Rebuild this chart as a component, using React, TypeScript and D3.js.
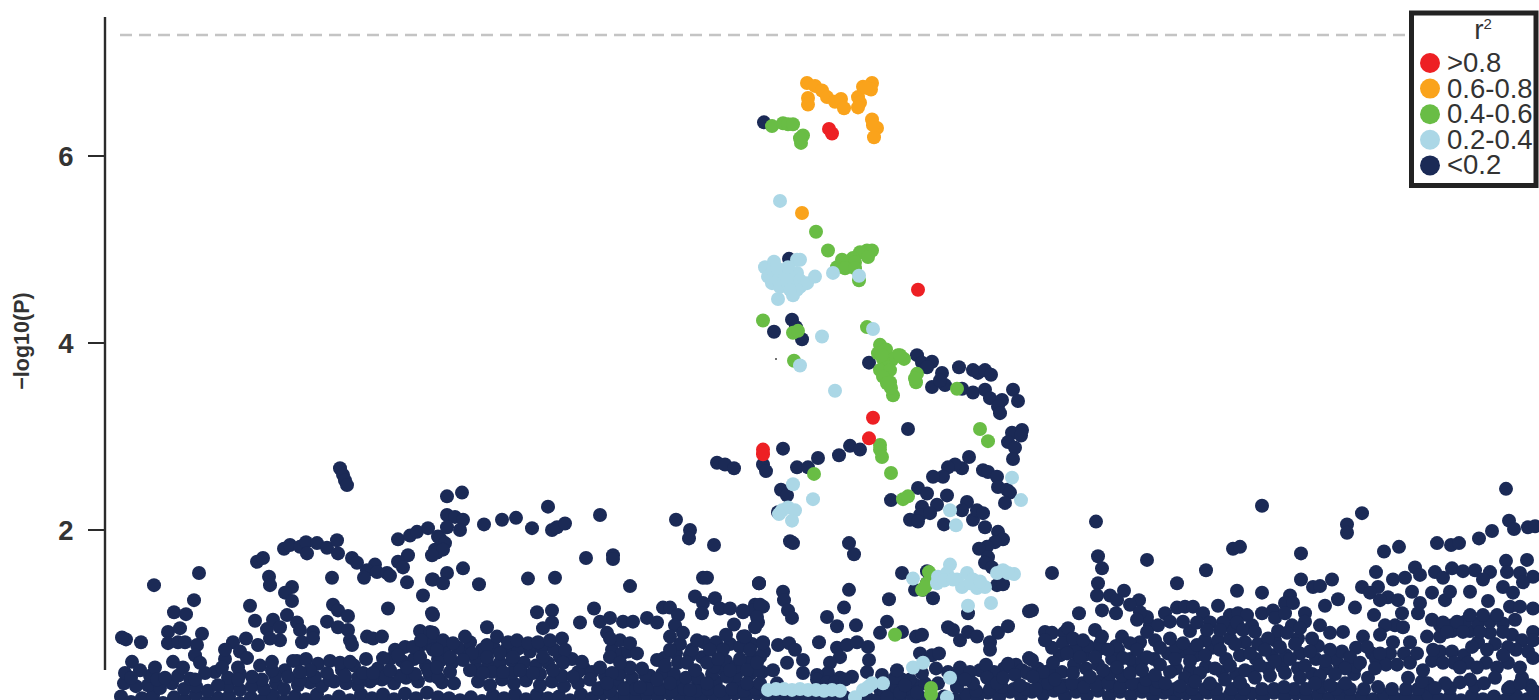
import React from "react";
import * as d3 from "d3";

type P = [number, number];

const yTicks = [2, 4, 6];
const genomeWideLine = 7.3;

const redPoints: P[] = [[829,6.29],[832,6.24],[918,4.57],[873,3.20],[869,2.98],[763,2.86],[763,2.81]];

const orangePoints: P[] = [[807,6.78],[815,6.75],[822,6.70],[827,6.63],[835,6.58],[841,6.61],[844,6.51],[808,6.62],[808,6.55],[858,6.63],[860,6.57],[858,6.52],[863,6.74],[872,6.78],[871,6.71],[866,6.73],[872,6.39],[877,6.30],[874,6.20],[873,6.33],[802,5.39]];

const greenPoints: P[] = [[772,6.32],[783,6.35],[788,6.34],[793,6.34],[803,6.22],[801,6.14],[800,6.19],
[816,5.19],[828,4.99],[867,4.99],[872,4.99],[860,4.97],[868,4.92],[853,4.91],[855,4.86],[842,4.89],[837,4.81],[845,4.80],[855,4.80],[859,4.67],
[763,4.24],[793,4.11],[798,4.13],[867,4.17],[880,3.98],[886,3.93],[878,3.89],[898,3.87],[904,3.83],[892,3.82],[883,3.83],[887,3.74],[882,3.87],[900,3.87],
[880,3.71],[890,3.71],[883,3.64],[890,3.58],[893,3.44],[891,3.52],[887,3.57],[917,3.67],[916,3.58],[915,3.62],[957,3.51],[794,3.81],
[980,3.08],[988,2.95],[880,2.91],[880,2.86],[882,2.78],[891,2.61],[814,2.60],[903,2.33],[908,2.36],
[929,1.55],[927,1.43],[922,1.36],[925,1.39],[895,.88],[931,.31],[931,.24]];

const lightBluePoints: P[] = [[780,5.52],[833,4.75],[859,4.72],[765,4.81],[774,4.87],[797,4.89],[800,4.89],[768,4.71],[773,4.78],[772,4.64],[778,4.67],[783,4.75],[790,4.75],[797,4.75],[793,4.65],[800,4.67],[800,4.60],[807,4.64],[815,4.71],[778,4.47],[793,4.51],[797,4.57],[777,4.80],[788,4.81],[780,4.60],[787,4.65],[790,4.57],
[822,4.07],[873,4.15],[800,3.76],[835,3.49],
[793,2.49],[813,2.33],[1012,2.56],[1021,2.32],[950,2.21],[956,2.05],[782,2.21],[788,2.24],[795,2.21],[792,2.10],[779,2.17],
[950,1.63],[938,1.50],[937,1.43],[947,1.54],[957,1.47],[967,1.54],[973,1.47],[962,1.39],[977,1.38],[985,1.39],[970,1.43],[1003,1.57],[997,1.54],[1014,1.53],[1008,1.54],[913,1.48],[991,1.22],[968,1.19],[944,1.46],[953,1.47],[980,1.45],
[768,.29],[776,.30],[784,.30],[792,.29],[800,.30],[808,.29],[816,.29],[824,.28],[832,.29],[840,.28],[863,.29],[872,.36],[883,.36],[868,.32],[855,.21],[913,.53],[923,.58],[950,.42],[947,.21]];

const navyPeak: P[] = [[764,6.36],[789,4.90],[792,4.25],[796,4.17],[774,4.12],[802,4.04],[869,3.79],[917,3.87],[922,3.79],[932,3.80],[927,3.74],[959,3.74],[973,3.71],[978,3.68],[985,3.71],[991,3.66],[942,3.68],[932,3.53],[945,3.55],[940,3.60],[962,3.51],[973,3.47],[985,3.50],[990,3.41],[1002,3.39],[1013,3.50],[1018,3.38],[998,3.32],[1000,3.25],[908,3.08],
[1022,3.07],[1012,3.04],[1021,3.01],[1008,2.94],[1015,2.88],[1013,2.76],[783,2.87],[763,2.70],[766,2.63],[797,2.67],[808,2.67],[818,2.77],[839,2.80],[850,2.90],[860,2.86],
[969,2.78],[962,2.66],[955,2.70],[948,2.67],[943,2.57],[933,2.57],[983,2.64],[988,2.62],[997,2.57],[998,2.46],[1007,2.43],[1010,2.40],[1005,2.29],[781,2.43],[787,2.37],[891,2.32],[918,2.45],[927,2.39],[947,2.37],[937,2.27],[922,2.25],[920,2.16],[910,2.11],[918,2.09],[930,2.18],[944,2.06],[967,2.30],[962,2.21],[973,2.11],[977,2.21],[983,2.18],[985,2.03],[778,2.19],
[998,1.98],[1003,1.90],[995,1.87],[987,1.82],[979,1.80],[988,1.71],[985,1.65],[992,1.60],[997,1.41],[1003,1.42],[902,1.54],[927,1.56],[927,1.43],[923,1.36],[915,1.36],[933,1.27],[889,1.26],[849,1.36],[844,1.17],[856,.98],[837,.97],[827,1.07],[887,1.02],[880,.90],[902,.91],[916,.86],[922,.88],[948,.96],[953,.93],[960,.82],[968,.91],[977,.86],[998,.90],[1008,.97],[1029,1.13],[990,.80],[990,.72],[968,1.11],
[849,1.86],[854,1.74],[790,1.88],[793,1.86],[759,1.43],[783,1.34],[784,1.25],[788,1.14],[792,1.06],[753,1.14],[760,1.20],[757,1.07],[755,.96],[743,1.14],[819,.80]];

const navyLeft: P[] = [[340,2.66],[343,2.59],[345,2.53],[347,2.48],[154,1.41],[199,1.54],[194,1.25],[174,1.12],[186,1.10],[126,.83],[122,.85],[141,.80],[168,.91],[180,.95],[202,.89],[168,.79],[178,.80],[185,.80],[197,.77],[195,.66],[132,.59],[173,.59],[183,.53],[200,.58],[155,.53],[140,.50],[131,.42],[157,.40],[165,.42],[190,.41],[195,.40],[218,.34],
[257,1.66],[263,1.70],[269,1.50],[270,1.41],[284,1.80],[290,1.84],[300,1.82],[306,1.87],[307,1.75],[317,1.86],[327,1.81],[337,1.89],[338,1.75],[352,1.70],[357,1.65],[375,1.63],[367,1.57],[364,1.49],[377,1.55],[387,1.54],[390,1.51],[398,1.90],[410,1.94],[417,1.98],[428,2.02],[438,1.93],[435,1.79],[408,1.73],[398,1.66],[403,1.60],[407,1.44],[432,1.47],[423,1.30],[332,1.49],[388,1.16],[432,1.11],
[292,1.39],[285,1.33],[292,1.24],[250,1.19],[255,1.03],[333,1.20],[338,1.14],[348,1.08],[267,.94],[273,1.04],[287,1.09],[297,1.01],[280,.96],[300,.93],[313,.91],[327,1.02],[338,.96],[348,.93],[350,.82],[352,.77],[367,.86],[373,.84],[382,.86],[302,.80],[313,.84],[280,.82],[270,.84],[258,.77],[246,.84],[233,.80],[225,.72],[240,.70],[247,.63],[222,.53],[272,.59],[293,.60],[288,.43],[284,.30],[252,.43],[238,.53],[238,.40],
[383,.63],[398,.66],[413,.75],[430,.91],[421,.82],[340,.58],[350,.59],[327,.47],[310,.50],[300,.48],[363,.47],[373,.47],[390,.50],[407,.53],[420,.64],[433,.72]];

const navyMiddleLeft: P[] = [[447,2.36],[462,2.40],[447,2.16],[455,2.14],[463,2.11],[447,2.03],[460,2.00],[484,2.06],[502,2.11],[516,2.13],[532,2.02],[548,2.25],[552,2.00],[557,2.03],[565,2.07],[600,2.16],[676,2.11],[690,2.00],[689,1.91],[714,1.84],[717,2.72],[725,2.70],[734,2.66],
[440,1.91],[445,1.86],[437,1.76],[443,1.79],[432,1.73],[463,1.59],[447,1.54],[433,1.47],[443,1.43],[479,1.42],[528,1.48],[555,1.49],[586,1.70],[613,1.73],[613,1.69],[630,1.40],[703,1.49],[707,1.49],[759,1.43],
[695,1.29],[715,1.27],[703,1.22],[702,1.11],[594,1.16],[537,1.12],[552,1.14],[552,1.01],[543,.95],[580,1.01],[487,.96],[433,1.09],
[600,1.02],[610,1.06],[623,1.02],[633,1.02],[647,1.06],[657,1.01],[663,1.17],[670,1.17],[678,1.09],[675,.98],[607,.90],[610,.84],[720,1.16],[730,1.16],[743,1.12],[755,1.20],[763,1.18],[758,1.01],[734,.99],[726,.88],[745,.86],[763,.80],
[433,.90],[443,.82],[453,.79],[465,.86],[472,.68],[487,.77],[497,.86],[508,.80],[517,.82],[528,.79],[538,.80],[550,.82],[562,.84],[565,.72],[487,.64],[500,.68],[513,.64],[543,.64],[563,.58],[582,.59],[600,.53],[612,.47],[437,.72],[450,.64],[463,.61],[437,.53],[450,.48],[470,.50],[483,.47],[503,.48],[520,.50],[533,.47],[553,.50],[573,.43],[590,.40],[607,.36],[640,.32],[657,.40],[670,.36],[707,.36],[727,.43],[747,.36],[690,.29],
[610,.64],[630,.79],[637,.68],[630,.53],[657,.61],[670,.86],[683,.90],[697,.82],[710,.72],[723,.72],[740,.75],[743,.86],[753,.64],[670,.72],[678,.58],[687,.58],[707,.58],[730,.50],[750,.58],[620,.58],[642,.52],[665,.55],[695,.50],[718,.62],[740,.62]];

const navyCentre: P[] = [[745,.86],[763,.79],[778,.77],[789,.79],[795,.72],[803,.61],[803,.47],[787,.58],[773,.50],[760,.64],[750,.72],[747,.50],[757,.58],[837,.74],[847,.77],[857,.80],[868,.75],[840,.64],[830,.58],[828,.47],[817,.45],[840,.42],[852,.43],[869,.61],[867,.48],[882,.45],[897,.50],[920,.68],[932,.66],[939,.68],[922,.47],[910,.40],[960,.53],[970,.48],[986,.56],[1008,.57],[1029,.63],[1015,.45],[973,.36],[987,.42],[997,.36],[1027,.47],[957,.32],[917,.26],[900,.26],[887,.21],[840,.21],[807,.21],[747,.36],[760,.36],[777,.36],[817,.40],[827,.37],[835,.37],[845,.40],[905,.34],[938,.36],[965,.40],[1003,.42],[1020,.34]];

const navyRight: P[] = [[1052,1.54],[1096,2.09],[1098,1.72],[1102,1.59],[1098,1.43],[1097,1.30],[1102,1.14],[1110,1.30],[1124,1.35],[1116,1.11],[1117,1.25],[1147,1.68],[1139,1.25],[1130,1.20],[1147,1.07],[1140,1.12],[1137,1.04],[1079,1.11],[1032,1.14],[1177,1.43],[1206,1.57],[1233,1.80],[1240,1.82],[1218,1.19],[1237,1.35],[1262,2.26],[1262,1.33],[1301,1.75],[1301,1.47],[1313,1.39],[1320,1.40],[1332,1.47],[1338,1.26],[1325,1.19],[1290,1.30],[1285,1.22],[1293,1.22],[1362,2.18],[1347,2.06],[1347,1.97],[1384,1.77],[1399,1.82],[1376,1.55],[1437,1.86],[1451,1.84],[1459,1.86],[1479,1.91],[1492,1.99],[1506,2.44],[1509,2.10],[1514,2.01],[1528,2.03],[1535,2.04],[1506,1.67],[1527,1.68],
[1415,1.60],[1420,1.52],[1435,1.55],[1443,1.49],[1452,1.59],[1463,1.56],[1475,1.57],[1490,1.55],[1483,1.47],[1432,1.33],[1445,1.25],[1450,1.34],[1470,1.34],[1488,1.24],[1503,1.39],[1507,1.55],[1520,1.54],[1533,1.50],[1513,1.33],[1523,1.44],[1393,1.47],[1405,1.49],[1412,1.34],[1362,1.39],[1378,1.39],[1370,1.33],[1388,1.28],[1380,1.25],[1355,1.17],[1374,1.09],[1398,1.25],[1402,1.11],[1420,1.22],[1418,1.11],[1395,.98],[1403,.96],[1385,.98],
[1432,1.04],[1443,1.01],[1457,1.02],[1470,1.09],[1483,1.09],[1497,1.09],[1510,1.18],[1520,1.18],[1533,1.16],[1515,1.04],[1447,.91],[1463,.91],[1480,.91],[1503,.91],[1533,.91],[1533,.82],[1427,.86],[1433,.72],[1443,.58],[1460,.53],[1472,.75],[1487,.72],[1508,.75],[1503,.66],[1528,.70],[1533,.63],[1520,.53],[1477,.53],[1497,.53],[1460,.37],[1495,.42],[1510,.32],[1520,.36],[1533,.29],[1435,.31],
[1165,1.11],[1177,1.17],[1185,1.18],[1193,1.18],[1203,1.11],[1158,.98],[1170,1.02],[1183,1.02],[1197,1.01],[1210,1.01],[1230,1.09],[1238,1.11],[1247,1.09],[1223,1.01],[1237,1.01],[1262,1.11],[1273,1.14],[1275,1.06],[1285,1.11],[1305,1.11],[1305,1.02],[1300,.95],[1320,.98],[1343,.91],[1330,.90],[1363,.86],[1380,.88],
[1068,.95],[1045,.91],[1052,.90],[1045,.82],[1095,.93],[1102,.86],[1122,.86],[1130,.79],[1147,.91],[1108,.72],[1063,.79],[1073,.84],[1083,.82],[1067,.68],[1080,.64],[1095,.64],[1123,.63],[1137,.72],[1147,.64],[1032,.61],[1053,.58],[1043,.48],[1033,.43],[1055,.40],[1073,.47],[1090,.43],[1103,.50],[1117,.53],[1130,.47],[1142,.50],
[1160,.74],[1170,.84],[1183,.79],[1197,.77],[1207,.93],[1220,.93],[1243,.93],[1255,.91],[1268,.84],[1287,.90],[1312,.84],[1330,.72],[1350,.64],[1367,.75],[1380,.68],[1393,.80],[1410,.80],[1417,.68],[1397,.56],[1423,.50],
[1160,.56],[1175,.62],[1190,.60],[1205,.66],[1220,.72],[1235,.78],[1250,.68],[1265,.72],[1280,.75],[1295,.78],[1310,.70],[1325,.60],[1345,.52],[1360,.58],[1375,.52],[1155,.45],[1170,.48],[1185,.42],[1200,.47],[1215,.52],[1230,.55],[1245,.50],[1260,.55],[1275,.60],[1290,.62],[1305,.55],[1320,.44],[1335,.46],[1165,.36],[1180,.33],[1195,.38],[1210,.36],[1225,.40],[1240,.37],[1255,.42],[1270,.44],[1285,.47],[1300,.42],[1315,.36],[1330,.34],[1345,.36]];

const navyBaseUpper: P[] = [[124,.36],[136,.33],[148,.34],[160,.31],[172,.36],[184,.30],[196,.33],[208,.28],[228,.33],[240,.29],[252,.33],[264,.30],[276,.36],[298,.34],[310,.37],[322,.33],[334,.38],[346,.36],[358,.34],[370,.38],[382,.40],[394,.36],[406,.42],[418,.38],[430,.44],[442,.37],[454,.36],[478,.38],[490,.34],[502,.40],[514,.36],[526,.39],[540,.34],[552,.38],[564,.33],[578,.36],[600,.31],[618,.36],[630,.33],[648,.38],[680,.36],[698,.37],[716,.38],[736,.34],[1040,.36],[1065,.34],[1082,.36],[1100,.38],[1112,.34],[1124,.36],[1138,.35],[1150,.34],[1175,.30],[1205,.30],[1232,.30],[1262,.30],[1294,.30],[1322,.32],[1350,.30],[1378,.32],[1406,.30],[1428,.36],[1450,.31],[1475,.33],[1508,.30],[1530,.34]];

const navyBaseLower: P[] = [[121,.22],[131,.16],[142,.20],[153,.23],[163,.15],[174,.21],[185,.18],[196,.24],[207,.16],[218,.20],[229,.22],[240,.15],[251,.21],[262,.18],[273,.23],[284,.17],[295,.22],[306,.19],[317,.24],[328,.17],[339,.22],[350,.18],[361,.24],[372,.20],[383,.24],[394,.19],[405,.25],[416,.20],[427,.26],[438,.21],[449,.20],[460,.18],[471,.21],[482,.17],[493,.23],[504,.20],[515,.24],[526,.19],[537,.24],[548,.20],[559,.22],[570,.18],[581,.24],[592,.20],[603,.25],[614,.21],[625,.23],[636,.20],[647,.24],[658,.21],[669,.25],[680,.20],[691,.23],[702,.21],[713,.24],[724,.20],[735,.25],[746,.22],[757,.25],[768,.18],[779,.20],[790,.17],[801,.20],[812,.17],[823,.20],[834,.18],[845,.21],[856,.17],[867,.21],[878,.19],[889,.22],[900,.20],[911,.24],[922,.20],[933,.18],[944,.22],[955,.19],[966,.24],[977,.20],[988,.26],[999,.21],[1010,.27],[1021,.22],[1032,.27],[1043,.24],[1054,.28],[1065,.22],[1076,.27],[1087,.23],[1098,.28],[1109,.22],[1120,.27],[1131,.23],[1142,.27],[1153,.22],[1164,.26],[1175,.21],[1186,.25],[1197,.21],[1208,.26],[1219,.20],[1230,.24],[1241,.20],[1252,.25],[1263,.20],[1274,.26],[1285,.21],[1296,.25],[1307,.20],[1318,.24],[1329,.20],[1340,.24],[1351,.19],[1362,.23],[1373,.19],[1384,.24],[1395,.20],[1406,.23],[1417,.19],[1428,.24],[1439,.19],[1450,.22],[1461,.18],[1472,.23],[1483,.19],[1494,.22],[1505,.18],[1516,.23],[1527,.19],[1537,.22]];

const navyDenseLeft: P[] = [[285,.50],[297,.60],[306,.62],[318,.57],[330,.60],[342,.50],[354,.55],[366,.62],[378,.52],[390,.62],[402,.60],[414,.62],[426,.55],[438,.62],[240,.46],[228,.42],[262,.40],[275,.44],[300,.40],[315,.43],[330,.40],[345,.44],[358,.42],[372,.40],[386,.44],[400,.44],[415,.46],[428,.50],[395,.72],[405,.75],[418,.72],[428,.78],[438,.80],[420,.92],[430,.80],[225,.62],[215,.48],[205,.47],[125,.47],[150,.44],[178,.44],[260,.55],[272,.50]];

const navyDenseMiddle: P[] = [[440,.60],[452,.58],[464,.70],[476,.62],[488,.56],[500,.58],[512,.60],[524,.58],[536,.55],[548,.58],[560,.64],[572,.62],[584,.52],[445,.72],[458,.74],[470,.80],[482,.72],[494,.74],[506,.72],[518,.73],[530,.70],[542,.74],[554,.72],[438,.42],[478,.50],[492,.48],[512,.47],[526,.44],[540,.46],[562,.44],[578,.48],[592,.48],[605,.44],[620,.46],[632,.42],[598,.30],[610,.28],[624,.30],[636,.30],[648,.30],[660,.30],[672,.28],[684,.30],[696,.28],[708,.30],[720,.28],[732,.30],[744,.28],[756,.30],[650,.44],[662,.46],[674,.46],[686,.42],[698,.42],[712,.46],[724,.50],[736,.44],[750,.46],[762,.48],[664,.63],[676,.68],[690,.66],[702,.64],[714,.54],[726,.60],[736,.54],[758,.50],[680,.78],[692,.72],[704,.80],[716,.80],[730,.78],[752,.78],[764,.70],[612,.72],[622,.68],[645,.45],[620,.82],[628,.70]];

const navyDenseCentre: P[] = [[880,.30],[892,.34],[902,.40],[914,.35],[925,.36],[958,.42],[976,.28],[990,.30],[1002,.32],[1014,.30],[1026,.30],[1016,.56],[1022,.50],[1004,.52],[994,.48],[980,.50],[948,.48],[936,.52],[895,.42],[884,.28],[905,.30]];

const navyDenseRight: P[] = [[1036,.30],[1048,.36],[1060,.32],[1072,.36],[1084,.32],[1096,.34],[1108,.36],[1120,.32],[1132,.36],[1144,.32],[1156,.30],[1168,.30],[1180,.28],[1192,.30],[1216,.30],[1244,.30],[1274,.30],[1284,.32],[1306,.30],[1336,.30],[1364,.30],[1392,.30],[1418,.30],
[1038,.52],[1050,.50],[1062,.48],[1074,.56],[1086,.52],[1098,.56],[1110,.46],[1122,.44],[1134,.56],[1146,.40],[1158,.38],[1176,.52],[1190,.50],[1206,.54],[1222,.48],[1236,.46],[1252,.48],[1268,.52],[1282,.54],[1298,.52],[1312,.46],[1326,.52],[1340,.55],[1354,.46],[1368,.42],[1060,.66],[1072,.70],[1084,.66],[1098,.72],[1112,.62],[1118,.72],[1130,.62],[1142,.60],[1154,.62],[1168,.68],[1182,.70],[1196,.66],[1212,.74],[1226,.62],[1240,.66],[1256,.62],[1272,.66],[1286,.66],[1300,.68],[1316,.62],[1336,.62],[1052,.74],[1064,.90],[1076,.74],[1088,.76],[1100,.78],[1116,.76],[1140,.80],[1155,.82],[1176,.74],[1190,.72],[1205,.82],[1218,.82],[1230,.84],[1245,.80],[1258,.78],[1275,.82],[1298,.84],[1318,.76],[1342,.70],[1356,.74],[1372,.68],[1390,.68],[1404,.68],[1150,.98],[1190,.92],[1232,.95],[1252,.98],[1278,.92],[1292,.98],
[1440,.86],[1452,.92],[1470,.92],[1490,.90],[1512,.88],[1522,.82],[1440,.98],[1452,.98],[1465,1.02],[1478,1.00],[1490,1.02],[1503,1.00],[1440,.70],[1452,.70],[1464,.66],[1478,.80],[1495,.78],[1516,.72],[1454,.58],[1468,.58],[1486,.58],[1508,.58],[1410,.58],[1432,.60],[1376,.62],[1386,.56],[1356,.54],[1408,.42],[1422,.38],[1445,.36],[1470,.40],[1484,.36],[1522,.42]];

const specks: P[] = [[776,3.83]];

const legendLabels = [">0.8", "0.6-0.8", "0.4-0.6", "0.2-0.4", "<0.2"];
const legendColors = ["#ed2024", "#faa31b", "#69bd45", "#abd7e6", "#1b2a56"];

const x = d3.scaleLinear().domain([120, 1539]).range([120, 1539]);
const y = d3.scaleLinear().domain([0, 6]).range([717, 156]);
const R = 7;
const font = "'Liberation Sans', Arial, sans-serif";

const navyAll = [...navyBaseLower, ...navyBaseUpper, ...navyDenseLeft, ...navyDenseMiddle, ...navyDenseCentre, ...navyDenseRight, ...navyLeft, ...navyMiddleLeft, ...navyCentre, ...navyRight, ...navyPeak];

function Dots({ data, color, r = R }: { data: P[]; color: string; r?: number }) {
  return (
    <g fill={color}>
      {data.map((d, i) => (
        <circle key={i} cx={x(d[0])} cy={y(d[1])} r={r} />
      ))}
    </g>
  );
}

export default function App() {
  return (
    <svg width={1539} height={700} viewBox="0 0 1539 700" style={{ position: "absolute", left: 0, top: 0, display: "block", background: "#fff" }}>
      <line x1={120} x2={1410} y1={y(genomeWideLine) + 0.5} y2={y(genomeWideLine) + 0.5} stroke="#c4c4c4" strokeWidth={2.4} strokeDasharray="12 7" />
      <Dots data={navyAll} color={legendColors[4]} />
      <Dots data={greenPoints} color={legendColors[2]} />
      <Dots data={lightBluePoints} color={legendColors[3]} />
      <Dots data={orangePoints} color={legendColors[1]} />
      <Dots data={redPoints} color={legendColors[0]} />
      <Dots data={specks} color="#444" r={1} />

      <line x1={105} x2={105} y1={17} y2={670} stroke="#2b2b2b" strokeWidth={2.4} />
      {yTicks.map((t) => (
        <g key={t}>
          <line x1={88} x2={105} y1={y(t)} y2={y(t)} stroke="#2b2b2b" strokeWidth={2} />
          <text x={66} y={y(t) + 10} textAnchor="middle" fontFamily={font} fontWeight="bold" fontSize={27.5} fill="#333">{t}</text>
        </g>
      ))}
      <text transform="translate(29,341) rotate(-90)" textAnchor="middle" fontFamily={font} fontWeight="bold" fontSize={21.5} fill="#333">−log10(P)</text>

      <rect x={1411.5} y={13} width={124.5} height={172.5} fill="#fff" stroke="#222" strokeWidth={5} />
      <text x={1483} y={39} textAnchor="middle" fontFamily={font} fontSize={28} fill="#333">r<tspan fontSize={15} dy={-10}>2</tspan></text>
      {legendLabels.map((l, i) => {
        const cy = 63 + i * 25.6;
        return (
          <g key={l}>
            <circle cx={1430} cy={cy} r={10} fill={legendColors[i]} />
            <text x={1447} y={cy + 9} fontFamily={font} fontSize={27.5} fill="#333">{l}</text>
          </g>
        );
      })}
    </svg>
  );
}
